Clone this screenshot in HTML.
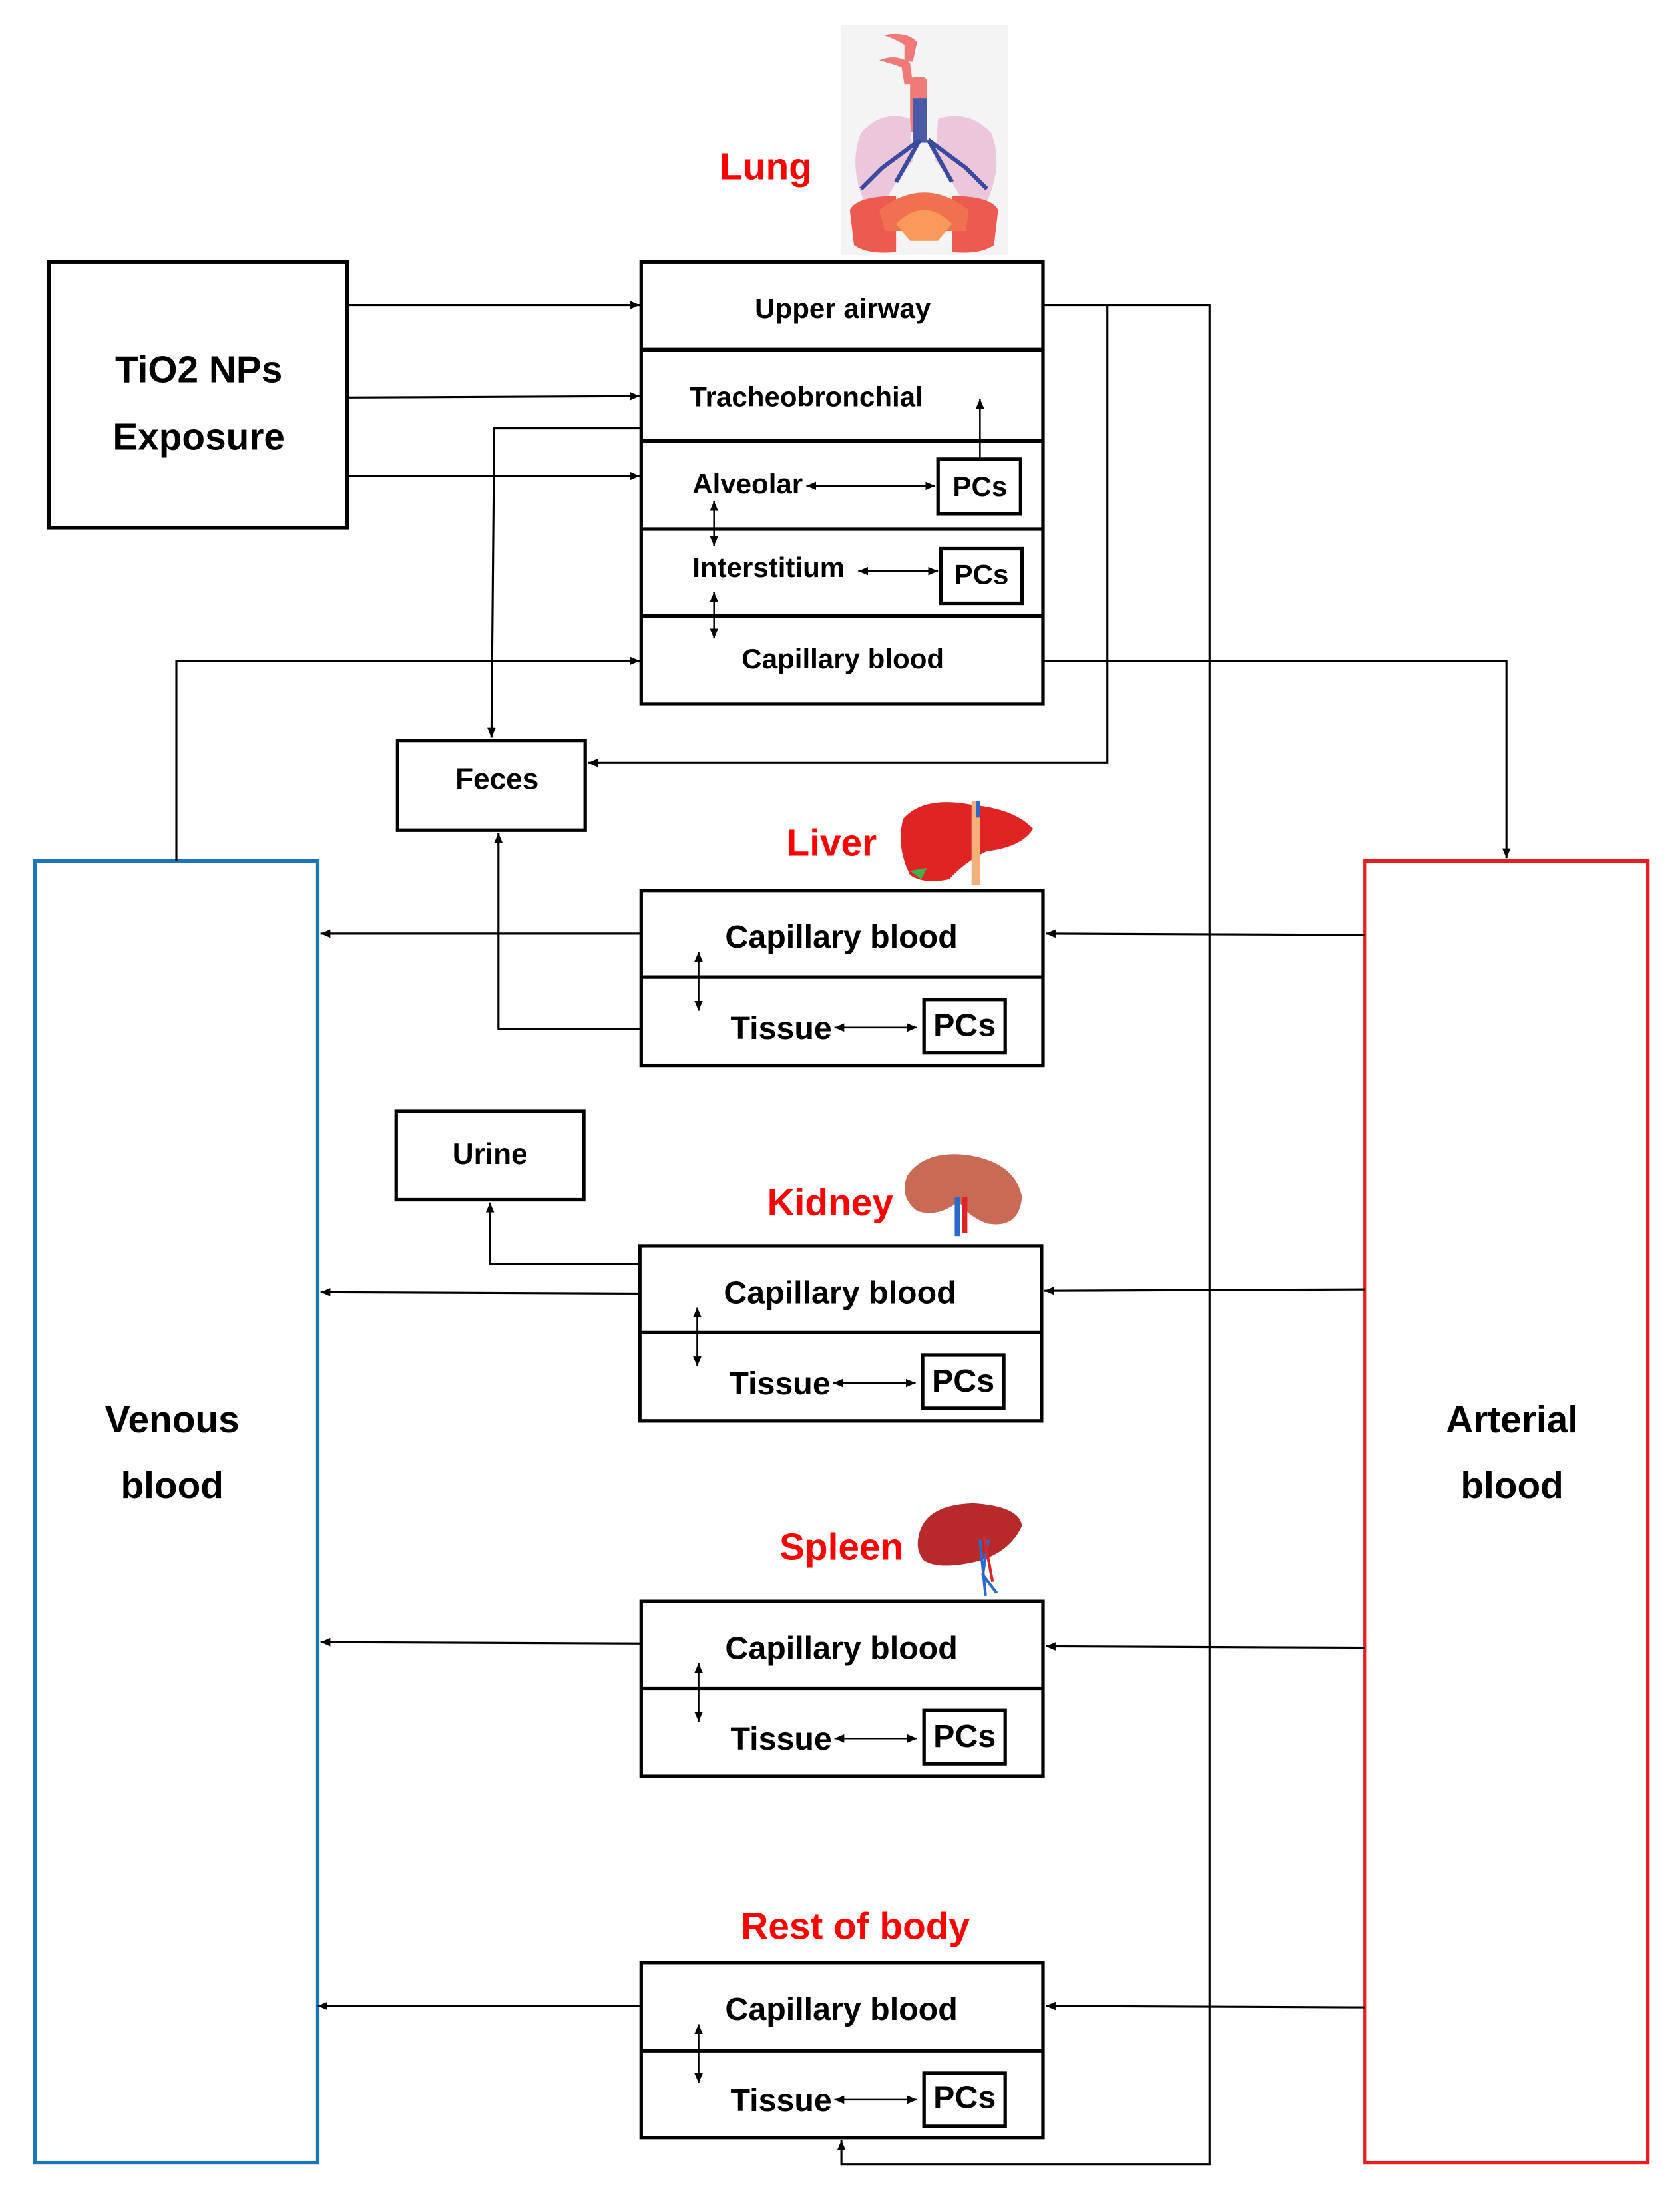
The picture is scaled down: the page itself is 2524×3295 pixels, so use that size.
<!DOCTYPE html>
<html><head><meta charset="utf-8"><style>
html,body{margin:0;padding:0;background:#fff;}
svg{display:block;}
text{font-family:"Liberation Sans",sans-serif;font-weight:bold;text-anchor:middle;dominant-baseline:middle;}
</style></head><body>
<svg width="2524" height="3295" viewBox="0 0 1200 1566.6" preserveAspectRatio="none" xmlns="http://www.w3.org/2000/svg">
<defs>
<marker id="a" markerUnits="userSpaceOnUse" markerWidth="8" markerHeight="8" refX="7" refY="4" orient="auto-start-reverse"><path d="M0,1 L7,4 L0,7 z" fill="#000"/></marker>
</defs>
<rect width="1200" height="1566.6" fill="#fff"/>

<!-- Lung illustration -->
<g>
<rect x="601" y="18" width="119" height="164" fill="#f4f4f4"/>
<path d="M628,43 Q640,38 650,45 L652,60 L646,60 L644,48 Q636,45 628,43z" fill="#f07a78"/>
<path d="M631,25 Q648,22 655,30 L652,44 L646,44 L646,32 Q640,28 631,25z" fill="#f07a78"/>
<rect x="650" y="55" width="12" height="40" rx="3" fill="#f07a78"/>
<rect x="652" y="70" width="10" height="32" fill="#4a5aa8"/>
<path d="M620,150 Q605,120 615,95 Q630,78 650,85 L652,115 Q635,135 630,150z" fill="#ecc7dc"/>
<path d="M702,150 Q718,120 708,95 Q692,78 670,85 L668,115 Q685,135 690,150z" fill="#ecc7dc"/>
<path d="M657,100 L630,120 L615,135 M657,100 L640,130 M663,100 L690,120 L705,135 M663,100 L680,130" stroke="#3a4aa0" stroke-width="3" fill="none"/>
<path d="M607,150 Q612,140 640,140 L640,180 Q620,182 610,175z" fill="#ec5a50"/>
<path d="M713,150 Q708,140 680,140 L680,180 Q700,182 710,175z" fill="#ec5a50"/>
<path d="M628,150 Q660,125 692,150 L690,165 L632,165z" fill="#f07050"/>
<path d="M640,160 Q660,140 680,160 L670,172 L650,172z" fill="#f79a5a"/>
</g>

<!-- Liver -->
<g>
<path d="M645,585 Q660,568 695,575 Q725,578 738,592 Q730,605 705,608 Q690,615 678,628 Q660,632 650,625 Q640,605 645,585z" fill="#e02424"/>
<rect x="694" y="572" width="6" height="60" fill="#f3b07a"/>
<rect x="697" y="572" width="3" height="12" fill="#2a6acc"/>
<path d="M650,622 L662,620 L658,628z" fill="#3cb44a"/>
</g>
<!-- Kidney -->
<g>
<path d="M648,840 Q660,822 690,825 Q725,830 730,855 Q728,878 705,874 Q690,868 685,858 Q670,870 655,865 Q642,855 648,840z" fill="#c96a55"/>
<rect x="682" y="855" width="4" height="28" fill="#2a6acc"/>
<rect x="687" y="855" width="4" height="26" fill="#e02424"/>
</g>
<!-- Spleen -->
<g>
<path d="M656,1098 Q660,1075 695,1074 Q728,1076 730,1090 Q722,1108 700,1115 Q672,1122 660,1115 Q654,1108 656,1098z" fill="#b82a2a"/>
<path d="M700,1100 L704,1140 M706,1100 L702,1125 L712,1138" stroke="#2a6acc" stroke-width="2" fill="none"/>
<path d="M703,1098 L709,1130" stroke="#e02424" stroke-width="2" fill="none"/>
</g>

<!-- Labels red -->
<g fill="#ff0000" font-size="27">
<text x="547" y="121">Lung</text>
<text x="594" y="604">Liver</text>
<text x="593" y="861">Kidney</text>
<text x="601" y="1107">Spleen</text>
<text x="611" y="1378">Rest of body</text>
</g>

<!-- TiO2 box -->
<rect x="35" y="187" width="213" height="190" fill="none" stroke="#000" stroke-width="2.5"/>
<text x="142" y="266" font-size="27">TiO2 NPs</text>
<text x="142" y="314" font-size="27">Exposure</text>

<!-- Venous / arterial -->
<rect x="25" y="615" width="202" height="930" fill="none" stroke="#1a75c0" stroke-width="2.5"/>
<text x="123" y="1016" font-size="27">Venous</text>
<text x="123" y="1063" font-size="27">blood</text>
<rect x="975" y="615" width="202" height="930" fill="none" stroke="#e81e1e" stroke-width="2.5"/>
<text x="1080" y="1016" font-size="27">Arterial</text>
<text x="1080" y="1063" font-size="27">blood</text>

<!-- Lung compartments -->
<g fill="none" stroke="#000" stroke-width="2.5">
<rect x="458" y="187" width="287" height="316"/>
<line x1="458" y1="250" x2="745" y2="250" stroke-width="3"/>
<line x1="458" y1="315" x2="745" y2="315"/>
<line x1="458" y1="378" x2="745" y2="378"/>
<line x1="458" y1="440" x2="745" y2="440"/>
<rect x="670" y="328" width="59" height="39"/>
<rect x="672" y="392" width="58" height="39"/>
</g>
<g font-size="20">
<text x="602" y="222">Upper airway</text>
<text x="576" y="285">Tracheobronchial</text>
<text x="534" y="347">Alveolar</text>
<text x="549" y="407">Interstitium</text>
<text x="602" y="472">Capillary blood</text>
<text x="700" y="349">PCs</text>
<text x="701" y="412">PCs</text>
</g>
<g stroke="#000" stroke-width="1.2" fill="none">
<line x1="576" y1="347" x2="668" y2="347" marker-start="url(#a)" marker-end="url(#a)"/>
<line x1="613" y1="408" x2="670" y2="408" marker-start="url(#a)" marker-end="url(#a)"/>
<line x1="510" y1="358" x2="510" y2="390" marker-start="url(#a)" marker-end="url(#a)"/>
<line x1="510" y1="423" x2="510" y2="456" marker-start="url(#a)" marker-end="url(#a)"/>
<line x1="700" y1="328" x2="700" y2="285" marker-end="url(#a)"/>
</g>

<!-- Feces, Urine -->
<g fill="none" stroke="#000" stroke-width="2.5">
<rect x="284" y="529" width="134" height="64"/>
<rect x="283" y="794" width="134" height="63"/>
</g>
<text x="355" y="558" font-size="21">Feces</text>
<text x="350" y="826" font-size="21">Urine</text>

<!-- Organ boxes -->
<g fill="none" stroke="#000" stroke-width="2.5">
<rect x="458" y="636" width="287" height="125"/><line x1="458" y1="698" x2="745" y2="698"/>
<rect x="457" y="890" width="287" height="125"/><line x1="457" y1="952" x2="744" y2="952"/>
<rect x="458" y="1144" width="287" height="125"/><line x1="458" y1="1206" x2="745" y2="1206"/>
<rect x="458" y="1402" width="287" height="125"/><line x1="458" y1="1465" x2="745" y2="1465"/>
<rect x="660" y="714" width="58" height="38"/>
<rect x="659" y="968" width="58" height="38"/>
<rect x="660" y="1222" width="58" height="38"/>
<rect x="660" y="1481" width="58" height="38"/>
</g>
<g font-size="23">
<text x="601" y="671">Capillary blood</text>
<text x="558" y="736">Tissue</text>
<text x="689" y="734">PCs</text>
<text x="600" y="925">Capillary blood</text>
<text x="557" y="990">Tissue</text>
<text x="688" y="988">PCs</text>
<text x="601" y="1179">Capillary blood</text>
<text x="558" y="1244">Tissue</text>
<text x="689" y="1242">PCs</text>
<text x="601" y="1437">Capillary blood</text>
<text x="558" y="1502">Tissue</text>
<text x="689" y="1500">PCs</text>
</g>
<g stroke="#000" stroke-width="1.2" fill="none">
<line x1="596" y1="734" x2="655" y2="734" marker-start="url(#a)" marker-end="url(#a)"/>
<line x1="499" y1="680" x2="499" y2="722" marker-start="url(#a)" marker-end="url(#a)"/>
<line x1="595" y1="988" x2="654" y2="988" marker-start="url(#a)" marker-end="url(#a)"/>
<line x1="498" y1="934" x2="498" y2="976" marker-start="url(#a)" marker-end="url(#a)"/>
<line x1="596" y1="1242" x2="655" y2="1242" marker-start="url(#a)" marker-end="url(#a)"/>
<line x1="499" y1="1188" x2="499" y2="1230" marker-start="url(#a)" marker-end="url(#a)"/>
<line x1="596" y1="1500" x2="655" y2="1500" marker-start="url(#a)" marker-end="url(#a)"/>
<line x1="499" y1="1446" x2="499" y2="1488" marker-start="url(#a)" marker-end="url(#a)"/>
</g>

<!-- Connectors -->
<g stroke="#000" stroke-width="1.5" fill="none">
<line x1="248" y1="218" x2="457" y2="218" marker-end="url(#a)"/>
<line x1="248" y1="284" x2="457" y2="283" marker-end="url(#a)"/>
<line x1="248" y1="340" x2="457" y2="340" marker-end="url(#a)"/>
<polyline points="458,306 353,306 351,527" marker-end="url(#a)"/>
<polyline points="745,218 864,218 864,1546 601,1546 601,1529" marker-end="url(#a)"/>
<polyline points="791,218 791,545 420,545" marker-end="url(#a)"/>
<polyline points="745,472 1076,472 1076,613" marker-end="url(#a)"/>
<polyline points="126,615 126,472 457,472" marker-end="url(#a)"/>
<line x1="975" y1="668" x2="747" y2="667" marker-end="url(#a)"/>
<line x1="458" y1="667" x2="229" y2="667" marker-end="url(#a)"/>
<polyline points="458,735 356,735 356,595" marker-end="url(#a)"/>
<line x1="975" y1="921" x2="746" y2="922" marker-end="url(#a)"/>
<line x1="457" y1="924" x2="229" y2="923" marker-end="url(#a)"/>
<polyline points="457,903 350,903 350,859" marker-end="url(#a)"/>
<line x1="975" y1="1177" x2="747" y2="1176" marker-end="url(#a)"/>
<line x1="458" y1="1174" x2="229" y2="1173" marker-end="url(#a)"/>
<line x1="975" y1="1434" x2="747" y2="1433" marker-end="url(#a)"/>
<line x1="458" y1="1433" x2="227" y2="1433" marker-end="url(#a)"/>
</g>
</svg>
</body></html>
